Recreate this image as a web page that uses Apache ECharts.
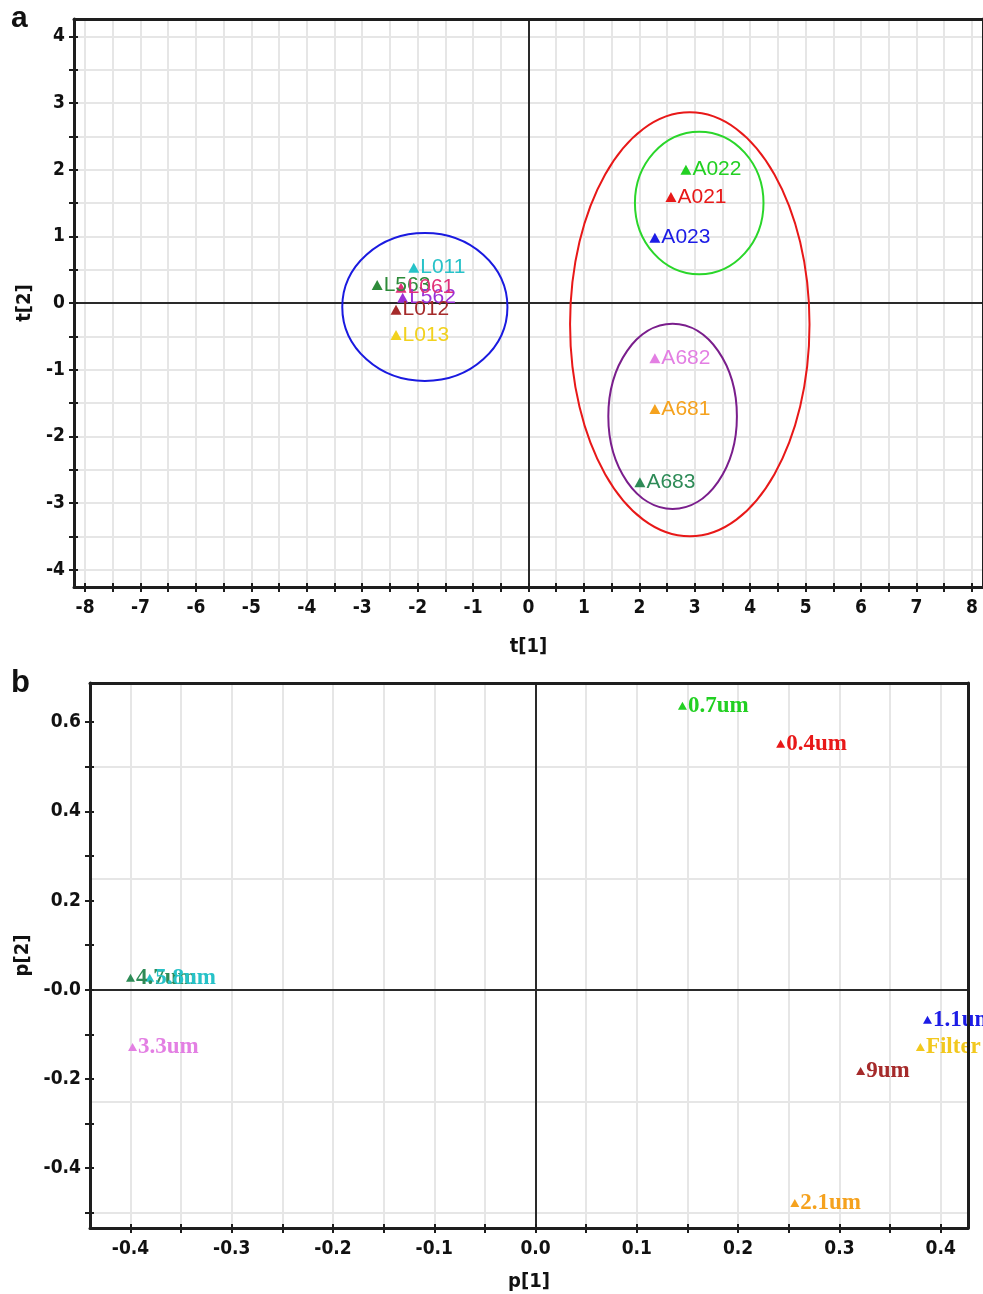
<!DOCTYPE html>
<html>
<head>
<meta charset="utf-8">
<script src="https://cdn.jsdelivr.net/npm/echarts@6.0.0/dist/echarts.min.js"></script>
<style>
  html, body { margin: 0; padding: 0; background: #fff; }
  #chart { width: 983px; height: 1294px; }
</style>
</head>
<body>
<div id="chart"></div>
<script>
// ---------- Panel a: score plot t[1] / t[2] ----------
const scoreNames  = ['A022', 'A021', 'A023', 'A682', 'A681', 'A683', 'L011', 'L563', 'L562', 'L061', 'L012', 'L013'];
const scoreT1     = [2.84, 2.57, 2.28, 2.28, 2.28, 2.01, -2.07, -2.73, -2.27, -2.30, -2.39, -2.39];
const scoreT2     = [2.00, 1.59, 0.98, -0.83, -1.59, -2.69, 0.53, 0.27, 0.08, 0.23, -0.10, -0.48];
const scoreColors = ['#22d022', '#e81818', '#1c1ce6', '#e37fe3', '#f5a21e', '#2e8b57',
                     '#27c2c8', '#2e8b3a', '#9b30d8', '#e0307a', '#a52a2a', '#f2d21e'];

// group ellipses: centre and semi-axes in score units
const ellipseCenterT1 = [-1.87, 2.91, 3.08, 2.60];
const ellipseCenterT2 = [-0.06, -0.32, 1.50, -1.70];
const ellipseRadiusT1 = [1.49, 2.16, 1.16, 1.16];
const ellipseRadiusT2 = [1.11, 3.18, 1.07, 1.39];
const ellipseColors   = ['#1a1ae0', '#e81818', '#2ad62a', '#7a1e8c'];

const t1Ticks  = [-8, -7.5, -7, -6.5, -6, -5.5, -5, -4.5, -4, -3.5, -3, -2.5, -2, -1.5, -1, -0.5, 0,
                  0.5, 1, 1.5, 2, 2.5, 3, 3.5, 4, 4.5, 5, 5.5, 6, 6.5, 7, 7.5, 8];
const t1Labels = [-8, -7, -6, -5, -4, -3, -2, -1, 0, 1, 2, 3, 4, 5, 6, 7, 8];
const t2Ticks  = [-4, -3.5, -3, -2.5, -2, -1.5, -1, -0.5, 0, 0.5, 1, 1.5, 2, 2.5, 3, 3.5, 4];
const t2Labels = [-4, -3, -2, -1, 0, 1, 2, 3, 4];
const t1Grid   = t1Ticks;
const t2Grid   = t2Ticks;

// ---------- Panel b: loading plot p[1] / p[2] ----------
const loadNames  = ['0.7um', '0.4um', '4.7um', '5.8um', '3.3um', '1.1um', 'Filter', '9um', '2.1um'];
const loadP1     = [0.145, 0.242, -0.400, -0.381, -0.398, 0.387, 0.380, 0.321, 0.256];
const loadP2     = [0.637, 0.552, 0.027, 0.027, -0.128, -0.067, -0.128, -0.182, -0.478];
const loadColors = ['#22d022', '#e81818', '#2e8b57', '#27c2c8', '#e37fe3', '#1c1ce6', '#f2c81e', '#a52a2a', '#f5a21e'];

const p1Ticks  = [-0.4, -0.35, -0.3, -0.25, -0.2, -0.15, -0.1, -0.05, 0, 0.05, 0.1, 0.15, 0.2, 0.25, 0.3, 0.35, 0.4];
const p1Labels = [-0.4, -0.3, -0.2, -0.1, 0, 0.1, 0.2, 0.3, 0.4];
const p2Ticks  = [-0.5, -0.4, -0.3, -0.2, -0.1, 0, 0.1, 0.2, 0.3, 0.4, 0.5, 0.6];
const p2Labels = [-0.4, -0.2, 0, 0.2, 0.4, 0.6];
const p1Grid   = p1Ticks;
const p2Grid   = [-0.5, -0.25, 0.25, 0.5];

// ---------- styling helpers ----------
const AXIS_COLOR = '#1e1e1e';
const TICK_FONT = "'Liberation Sans Narrow', 'DejaVu Sans Condensed', 'Arial Narrow', sans-serif";
const gridLine = { color: '#e6e6e6', width: 2, type: 'solid' };
const zeroLine = { color: '#2a2a2a', width: 2, type: 'solid' };

function mainAxis(gridIndex, pos, min, max, ticks, labels, fmt, name, nameGap, fontSize) {
  const vertical = pos === 'left';
  return {
    type: 'value', gridIndex, position: pos, min, max, z: 10,
    name, nameLocation: 'middle', nameGap, nameRotate: vertical ? 90 : 0,
    nameTextStyle: { fontFamily: TICK_FONT, fontWeight: 'bold', fontSize: fontSize + 1, color: '#111' },
    axisLine: { show: true, onZero: false, lineStyle: { color: AXIS_COLOR, width: 3 } },
    axisTick: { show: true, inside: false, length: 5, customValues: ticks, lineStyle: { color: AXIS_COLOR, width: 2 } },
    axisLabel: { show: true, customValues: labels, formatter: fmt, margin: vertical ? 9 : 12,
                 fontFamily: TICK_FONT, fontWeight: 'bold', fontSize, color: '#111' },
    splitLine: { show: false }, minorTick: { show: false }
  };
}
function innerTickAxis(gridIndex, pos, min, max, ticks) {
  return {
    type: 'value', gridIndex, position: pos, min, max, z: 10,
    axisLine: { show: false, onZero: false },
    axisTick: { show: true, inside: true, length: 4, customValues: ticks, lineStyle: { color: AXIS_COLOR, width: 2 } },
    axisLabel: { show: false }, splitLine: { show: false }
  };
}
function frameAxis(gridIndex, pos, min, max) {
  return {
    type: 'value', gridIndex, position: pos, min, max, z: 10,
    axisLine: { show: true, onZero: false, lineStyle: { color: AXIS_COLOR, width: 3 } },
    axisTick: { show: false }, axisLabel: { show: false }, splitLine: { show: false }
  };
}
function markerLines(xGrid, yGrid) {
  return {
    silent: true, z: 1, symbol: ['none', 'none'], animation: false,
    label: { show: false },
    data: [
      ...xGrid.map(v => ({ xAxis: v, lineStyle: gridLine })),
      ...yGrid.map(v => ({ yAxis: v, lineStyle: gridLine })),
      { xAxis: 0, lineStyle: zeroLine },
      { yAxis: 0, lineStyle: zeroLine }
    ]
  };
}

const T1 = [-8.2, 8.2], T2 = [-4.26, 4.26];
const P1 = [-0.44, 0.427], P2 = [-0.534, 0.688];

const intFmt = v => String(v);
const p1Fmt = v => v.toFixed(1);
const p2Fmt = v => (v === 0 ? '-0.0' : v.toFixed(1));

const option = {
  animation: false,
  backgroundColor: '#fff',
  grid: [
    { left: 74, top: 19, width: 912, height: 568, show: false },
    { left: 90, top: 683, width: 878, height: 545, show: false }
  ],
  graphic: [
    { type: 'text', left: 11, top: 4, style: { text: 'a', font: 'bold 30px "Liberation Sans", Arial, sans-serif', fill: '#111' } },
    { type: 'text', left: 11, top: 668, style: { text: 'b', font: 'bold 31px "Liberation Sans", Arial, sans-serif', fill: '#111' } }
  ],
  xAxis: [
    mainAxis(0, 'bottom', T1[0], T1[1], t1Ticks, t1Labels, intFmt, 't[1]', 50, 19),
    innerTickAxis(0, 'bottom', T1[0], T1[1], t1Ticks),
    frameAxis(0, 'top', T1[0], T1[1]),
    mainAxis(1, 'bottom', P1[0], P1[1], p1Ticks, p1Labels, p1Fmt, 'p[1]', 44, 19),
    innerTickAxis(1, 'bottom', P1[0], P1[1], p1Ticks),
    frameAxis(1, 'top', P1[0], P1[1])
  ],
  yAxis: [
    mainAxis(0, 'left', T2[0], T2[1], t2Ticks, t2Labels, intFmt, 't[2]', 34, 19),
    innerTickAxis(0, 'left', T2[0], T2[1], t2Ticks),
    frameAxis(0, 'right', T2[0], T2[1]),
    mainAxis(1, 'left', P2[0], P2[1], p2Ticks, p2Labels, p2Fmt, 'p[2]', 51, 19),
    innerTickAxis(1, 'left', P2[0], P2[1], p2Ticks),
    frameAxis(1, 'right', P2[0], P2[1])
  ],
  series: [
    {
      type: 'custom', xAxisIndex: 0, yAxisIndex: 0, z: 2, silent: true,
      data: ellipseCenterT1.map((c, i) => [c, ellipseCenterT2[i], ellipseRadiusT1[i], ellipseRadiusT2[i]]),
      renderItem(params, api) {
        const c = api.coord([api.value(0), api.value(1)]);
        const s = api.size([api.value(2), api.value(3)]);
        return {
          type: 'ellipse',
          shape: { cx: c[0], cy: c[1], rx: s[0], ry: s[1] },
          style: { fill: 'none', stroke: ellipseColors[params.dataIndex], lineWidth: 2 }
        };
      }
    },
    {
      type: 'scatter', xAxisIndex: 0, yAxisIndex: 0, z: 3, silent: true,
      symbol: 'triangle', symbolSize: [11, 10],
      itemStyle: { opacity: 1 },
      data: scoreNames.map((n, i) => ({
        name: n, value: [scoreT1[i], scoreT2[i]],
        itemStyle: { color: scoreColors[i], opacity: 1 },
        label: { color: scoreColors[i] }
      })),
      label: { show: true, position: 'right', distance: 1, formatter: '{b}',
               fontFamily: "'Liberation Sans', Arial, sans-serif", fontSize: 21 },
      markLine: markerLines(t1Grid, t2Grid)
    },
    {
      type: 'scatter', xAxisIndex: 3, yAxisIndex: 3, z: 3, silent: true,
      symbol: 'triangle', symbolSize: [9, 8],
      itemStyle: { opacity: 1 },
      data: loadNames.map((n, i) => ({
        name: n, value: [loadP1[i], loadP2[i]],
        itemStyle: { color: loadColors[i], opacity: 1 },
        label: { color: loadColors[i] }
      })),
      label: { show: true, position: 'right', distance: 1, formatter: '{b}',
               fontFamily: "'Liberation Serif', 'Times New Roman', serif", fontWeight: 'bold', fontSize: 23 },
      markLine: markerLines(p1Grid, p2Grid)
    }
  ]
};

const chart = echarts.init(document.getElementById('chart'), null, { renderer: 'canvas' });
chart.setOption(option);
</script>
</body>
</html>
